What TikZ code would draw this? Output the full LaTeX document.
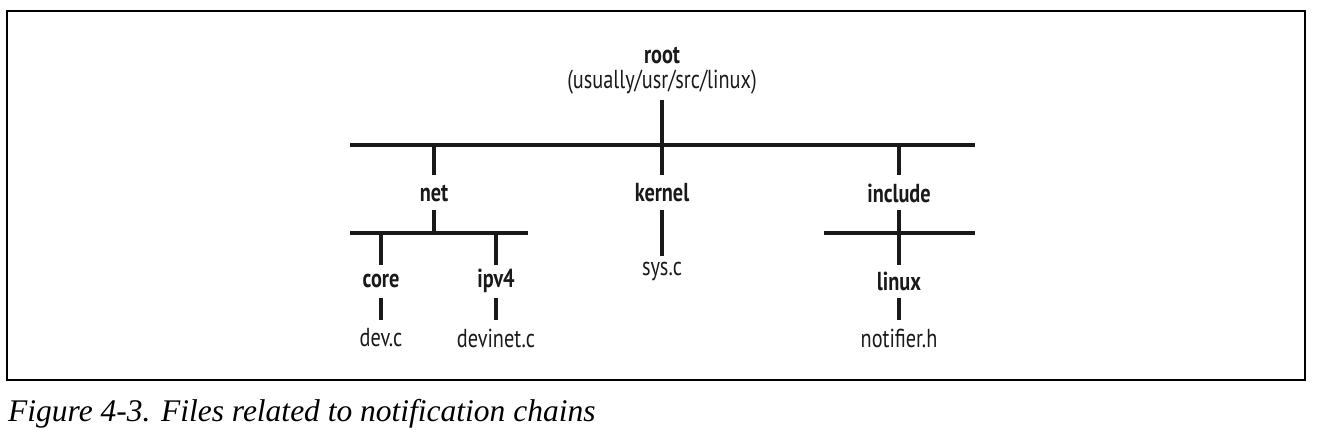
\documentclass[tikz,border=0pt]{standalone}
\usepackage{fontspec}
\setmainfont{Liberation Serif}
\newfontfamily\lblfont[FakeStretch=0.78]{PT Sans}
\begin{document}
\begin{tikzpicture}[x=1pt,y=-1pt,
  lbl/.style={font=\lblfont\fontsize{26}{29}\selectfont\bfseries, inner sep=0pt, text=black!90},
  fil/.style={font=\lblfont\fontsize{26}{29}\selectfont, inner sep=0pt, text=black!90},
  tree/.style={line width=4.5pt, draw=black!90},
  frame/.style={line width=1.3pt, draw=black}]
\useasboundingbox (0,0) rectangle (1320,437);
\draw[frame] (7,11) rectangle (1305,380);
% labels
\node[lbl] (root) at (662,55) {root};
\node[fil] (rootpath) at (662,82) {(usually/usr/src/linux)};
\node[lbl] (net) at (434,193) {net};
\node[lbl] (kernel) at (662,193) {kernel};
\node[lbl] (include) at (899,193) {include};
\node[lbl] (core) at (381,281) {core};
\node[lbl] (ipv4) at (496,281) {ipv4};
\node[fil] (sysc) at (662,272) {sys.c};
\node[lbl] (linux) at (899,281) {linux};
\node[fil] (devc) at (381,338) {dev.c};
\node[fil] (devinetc) at (496,338) {devinet.c};
\node[fil] (notifier) at (899,338) {notifier.h};
% coordinates
\coordinate (r0) at (662,100);
\coordinate (rb) at (662,145);
\coordinate (bl) at (350,145);
\coordinate (br) at (975,145);
\coordinate (n0) at (434,145); \coordinate (n1) at (434,175);
\coordinate (k0) at (662,145); \coordinate (k1) at (662,175);
\coordinate (i0) at (899,145); \coordinate (i1) at (899,175);
\coordinate (nt) at (434,210); \coordinate (nb) at (434,233);
\coordinate (nbl) at (350,233); \coordinate (nbr) at (528,233);
\coordinate (c0) at (381,233); \coordinate (c1) at (381,265);
\coordinate (p0) at (496,233); \coordinate (p1) at (496,265);
\coordinate (c2) at (381,298); \coordinate (c3) at (381,320);
\coordinate (p2) at (496,298); \coordinate (p3) at (496,320);
\coordinate (kt) at (662,210); \coordinate (kb) at (662,256);
\coordinate (it) at (899,210); \coordinate (ib) at (899,265);
\coordinate (ibl) at (824,233); \coordinate (ibr) at (975,233);
\coordinate (l2) at (899,298); \coordinate (l3) at (899,320);
% tree lines
\draw[tree] (r0) -- (rb);
\draw[tree] (bl) -- (br);
\draw[tree] (n0) -- (n1);
\draw[tree] (k0) -- (k1);
\draw[tree] (i0) -- (i1);
\draw[tree] (nt) -- (nb);
\draw[tree] (nbl) -- (nbr);
\draw[tree] (c0) -- (c1);
\draw[tree] (p0) -- (p1);
\draw[tree] (c2) -- (c3);
\draw[tree] (p2) -- (p3);
\draw[tree] (kt) -- (kb);
\draw[tree] (it) -- (ib);
\draw[tree] (ibl) -- (ibr);
\draw[tree] (l2) -- (l3);
% caption
\node[anchor=base west, inner sep=0pt, font=\fontsize{31.5}{34}\selectfont\itshape] (caption) at (8,421) {Figure 4-3. Files related to notification chains};
\end{tikzpicture}
\end{document}
